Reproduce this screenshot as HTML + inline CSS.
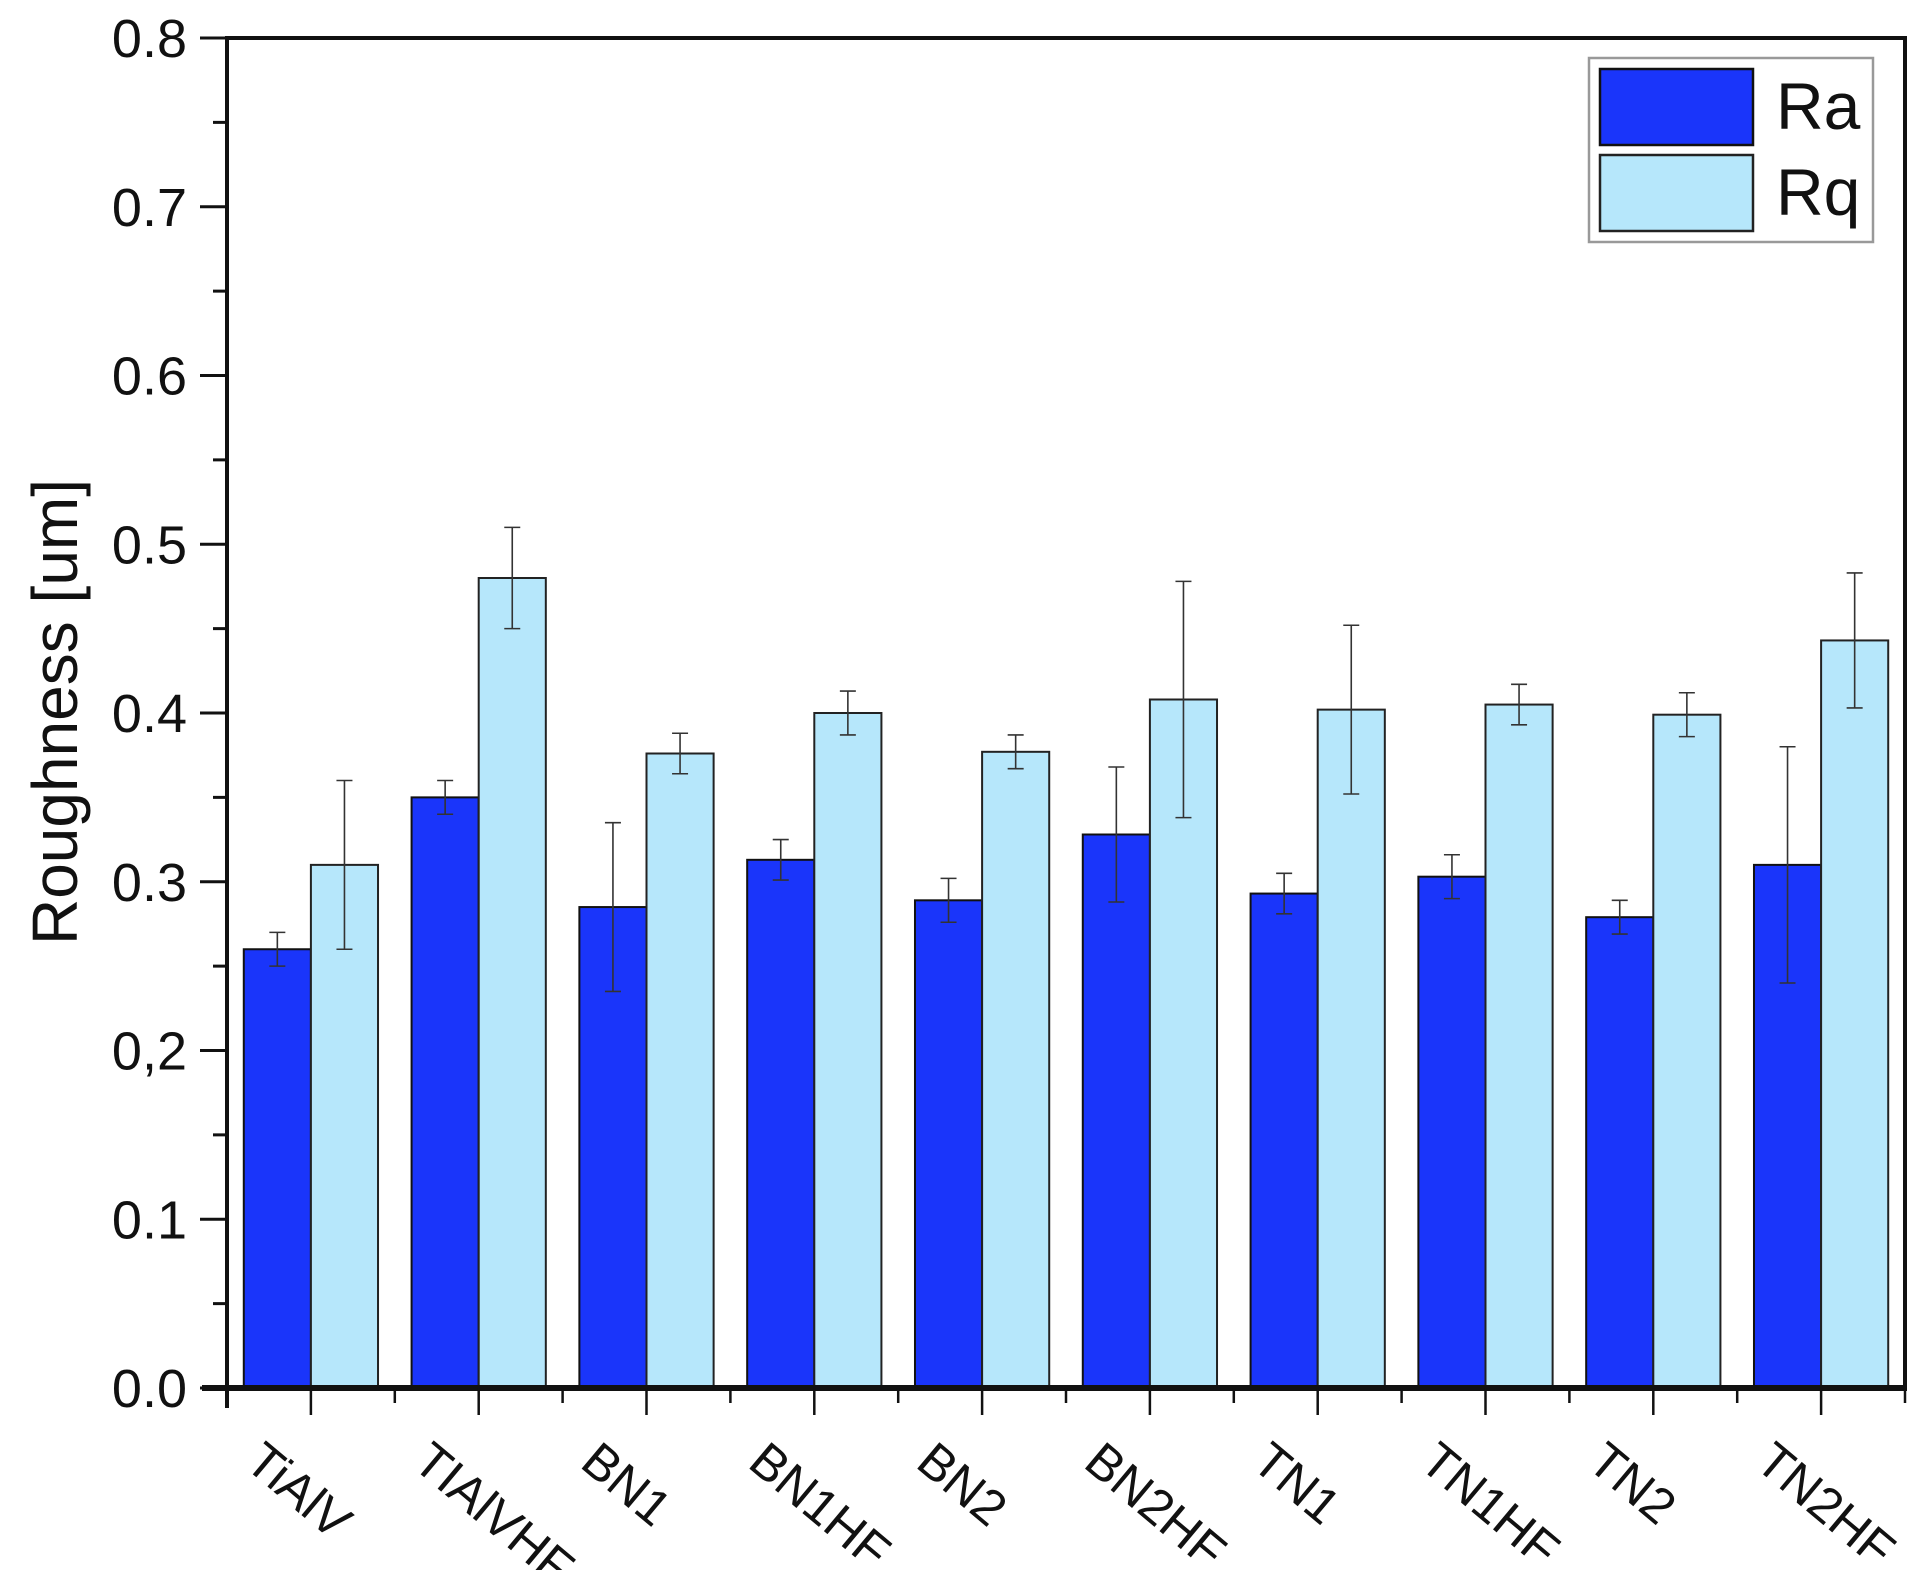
<!DOCTYPE html>
<html><head><meta charset="utf-8"><style>
html,body{margin:0;padding:0;background:#fff;}
svg{display:block;font-family:"Liberation Sans",Arial,sans-serif;}
</style></head><body>
<svg id="chart" width="1928" height="1570" viewBox="0 0 1928 1570" xmlns="http://www.w3.org/2000/svg">
<g id="plot"></g>
</svg>
<script>
const categories = ["TiAlV","TIAlVHF","BN1","BN1HF","BN2","BN2HF","TN1","TN1HF","TN2","TN2HF"];
const raValues = [0.26,0.35,0.285,0.313,0.289,0.328,0.293,0.303,0.279,0.31];
const raErrors = [0.01,0.01,0.05,0.012,0.013,0.04,0.012,0.013,0.01,0.07];
const rqValues = [0.31,0.48,0.376,0.40,0.377,0.408,0.402,0.405,0.399,0.443];
const rqErrors = [0.05,0.03,0.012,0.013,0.01,0.07,0.05,0.012,0.013,0.04];
const yTicks = [0,0.1,0.2,0.3,0.4,0.5,0.6,0.7,0.8];
const yTickLabels = ["0.0","0.1","0,2","0.3","0.4","0.5","0.6","0.7","0.8"];

const X0=227, X1=1905, Y0=1388, Y1=38;
const groupW=(X1-X0)/categories.length;
const yS=v=>Y0-(v/0.8)*(Y0-Y1);
const gx=i=>X0+groupW*i;
const NS="http://www.w3.org/2000/svg";
const plot=document.getElementById('plot');
function mk(tag,attrs,parent){const e=document.createElementNS(NS,tag);for(const k in attrs)e.setAttribute(k,attrs[k]);(parent||plot).appendChild(e);return e;}

const bw=groupW*0.4;
categories.forEach((c,i)=>{
  const x=gx(i)+groupW*0.1;
  let r=mk('rect',{x:x,y:yS(raValues[i]),width:bw,height:Y0-yS(raValues[i]),fill:'#1a35fa',stroke:'#111',"stroke-width":2});
  
  
  let q=mk('rect',{x:x+bw,y:yS(rqValues[i]),width:bw,height:Y0-yS(rqValues[i]),fill:'#b6e7fb',stroke:'#222',"stroke-width":2});
  
  
  [[x+bw/2,raValues[i],raErrors[i],'ra'],[x+bw*1.5,rqValues[i],rqErrors[i],'rq']].forEach(([cx,v,e,s])=>{
    const g=mk('g',{stroke:'#333',"stroke-width":1.6});
    
    
    mk('line',{x1:cx,x2:cx,y1:yS(v+e),y2:yS(v-e)},g);
    mk('line',{x1:cx-8,x2:cx+8,y1:yS(v+e),y2:yS(v+e)},g);
    mk('line',{x1:cx-8,x2:cx+8,y1:yS(v-e),y2:yS(v-e)},g);
  });
});

let fr=mk('path',{d:`M${X0} ${Y1} H${X1} V${Y0}`,fill:'none',stroke:'#111',"stroke-width":4});


let ya=mk('line',{x1:X0,x2:X0,y1:Y1-2,y2:Y0+20,stroke:'#111',"stroke-width":4});


let xa=mk('line',{x1:X0-25,x2:X1+2,y1:Y0,y2:Y0,stroke:'#111',"stroke-width":6});



yTicks.forEach((t,i)=>{
  mk('line',{x1:X0-27,x2:X0,y1:yS(t),y2:yS(t),stroke:'#111',"stroke-width":3});
  if(i<yTicks.length-1){const m=yS(t+0.05);mk('line',{x1:X0-14,x2:X0,y1:m,y2:m,stroke:'#111',"stroke-width":3});}
  const tx=mk('text',{x:X0-40,y:yS(t)+19,"text-anchor":"end","font-size":54,fill:'#111'});
  tx.textContent=yTickLabels[i];
  
  
});
categories.forEach((c,i)=>{
  const cx=gx(i)+groupW/2;
  mk('line',{x1:cx,x2:cx,y1:Y0,y2:Y0+27,stroke:'#111',"stroke-width":2.5});
  mk('line',{x1:gx(i+1),x2:gx(i+1),y1:Y0,y2:Y0+15,stroke:'#111',"stroke-width":2.5});
  const tx=mk('text',{x:cx-68,y:1466,"font-size":50,fill:'#111',transform:`rotate(40 ${cx-68} 1466)`});
  tx.textContent=c;
  
  
});
const yt=mk('text',{x:0,y:0,"font-size":64,"text-anchor":"middle",fill:'#111',transform:'translate(77 712) rotate(-90)'});
yt.textContent='Roughness [um]';



const lg=mk('g',{});


mk('rect',{x:1589,y:58,width:284,height:184,fill:'#fff',stroke:'#999',"stroke-width":2.5},lg);
const e1=mk('g',{},lg);


mk('rect',{x:1600,y:69,width:153,height:76,fill:'#1a35fa',stroke:'#111',"stroke-width":2.5},e1);
const t1=mk('text',{x:1776,y:129,"font-size":66,fill:'#111'},e1);t1.textContent='Ra';
const e2=mk('g',{},lg);


mk('rect',{x:1600,y:155,width:153,height:76,fill:'#b6e7fb',stroke:'#222',"stroke-width":2.5},e2);
const t2=mk('text',{x:1776,y:215,"font-size":66,fill:'#111'},e2);t2.textContent='Rq';
</script>
</body></html>
